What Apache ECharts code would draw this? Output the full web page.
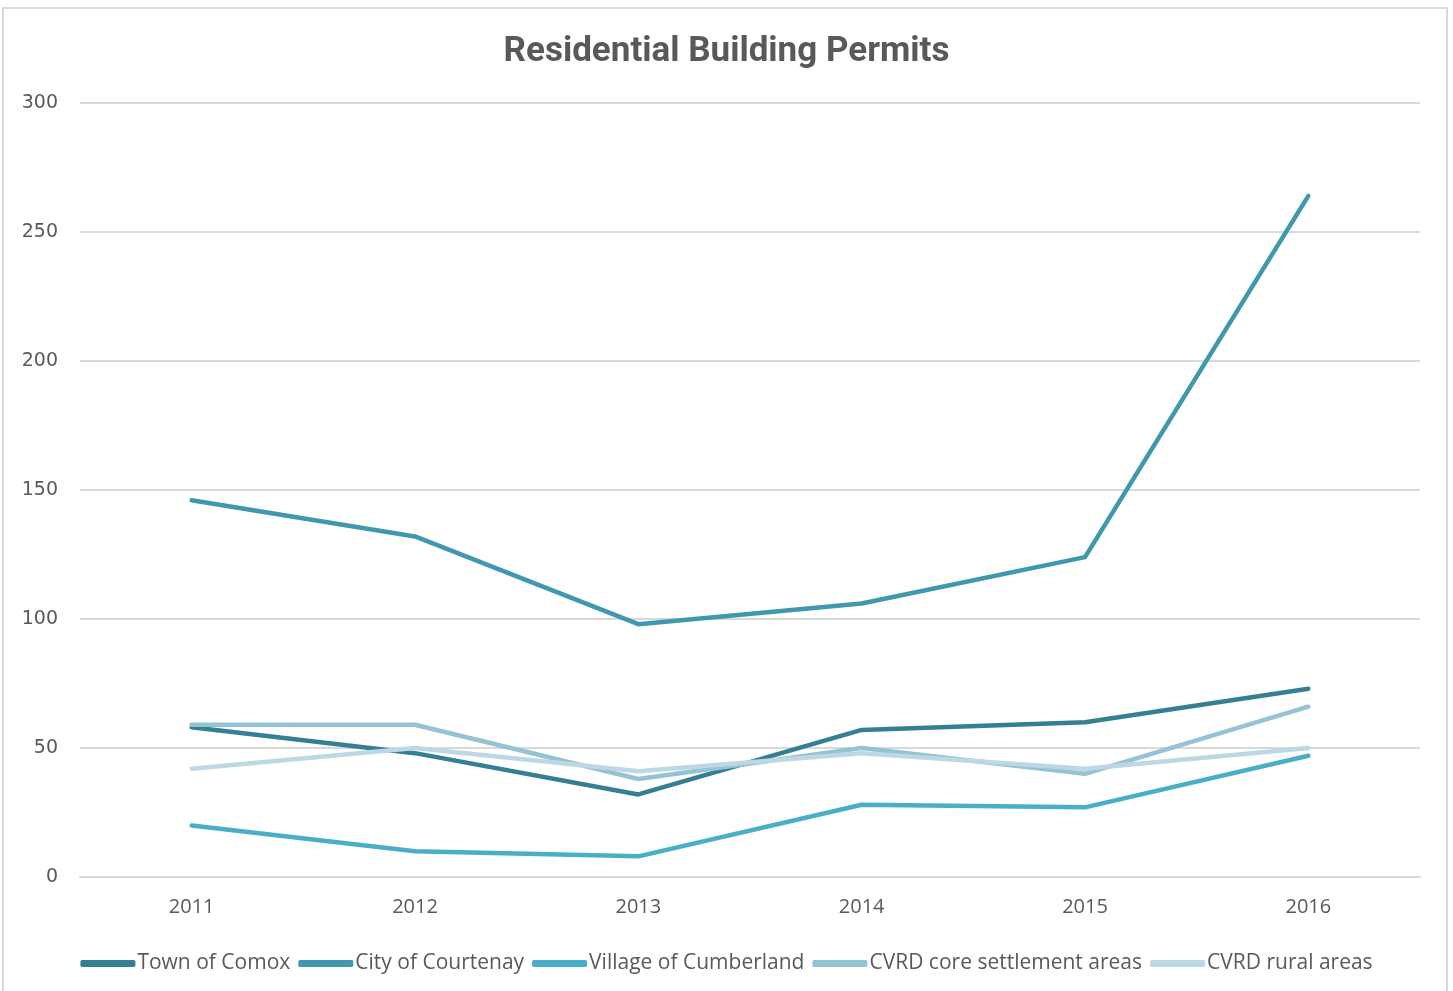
<!DOCTYPE html>
<html>
<head>
<meta charset="utf-8">
<script src="https://cdn.jsdelivr.net/npm/echarts@6/dist/echarts.min.js"></script>
<style>
html,body{margin:0;padding:0;background:#fff;overflow:hidden;}
#frame{position:absolute;left:2px;top:7px;width:1446px;height:1000px;border:2px solid #d9d9d9;box-sizing:border-box;}
#chart{position:absolute;left:0;top:0;width:1453px;height:991px;}
</style>
</head>
<body>
<div id="frame"></div>
<div id="chart"></div>
<script>
const categories = ['2011','2012','2013','2014','2015','2016'];
const yTicks = [0,50,100,150,200,250,300];
const seriesNames = ['Town of Comox','City of Courtenay','Village of Cumberland','CVRD core settlement areas','CVRD rural areas'];
const comox = [58,48,32,57,60,73];
const courtenay = [146,132,98,106,124,264];
const cumberland = [20,10,8,28,27,47];
const coreAreas = [59,59,38,50,40,66];
const ruralAreas = [42,50,41,48,42,50];
const colors = ['#357f94','#3f98ae','#4aaec6','#93c3d4','#bdd8e4'];

const dataSets = [comox,courtenay,cumberland,coreAreas,ruralAreas];
const chart = echarts.init(document.getElementById('chart'), null, {renderer:'canvas'});
chart.setOption({
  animation:false,
  backgroundColor:'transparent',
  title:{
    text:'Residential Building Permits',
    left:'center', top:30,
    textStyle:{fontFamily:'Roboto',fontWeight:'bold',fontSize:35,color:'#595959'}
  },
  legend:{
    bottom:12, left:'center',
    itemWidth:55, itemHeight:7, itemGap:8,
    icon:'roundRect',
    data:seriesNames,
    textStyle:{fontFamily:'Open Sans',fontSize:21,color:'#595959',padding:[0,0,0,-3]}
  },
  grid:{left:80,right:33,top:103,bottom:114,containLabel:false},
  xAxis:{
    type:'category', data:categories, boundaryGap:true,
    axisLine:{show:true,lineStyle:{color:'#d9d9d9',width:2}},
    axisTick:{show:false},
    axisLabel:{fontFamily:'Open Sans',fontSize:20,color:'#595959',margin:20}
  },
  yAxis:{
    type:'value', min:0, max:300, interval:50,
    axisLine:{show:false}, axisTick:{show:false},
    splitLine:{lineStyle:{color:'#d9d9d9',width:2}},
    axisLabel:{fontFamily:'DejaVu Sans',fontSize:19,color:'#595959',margin:22,
      formatter:v=>yTicks.includes(v)?String(v):''}
  },
  series:dataSets.map((d,i)=>({
    name:seriesNames[i], type:'line', data:d,
    symbol:'none', smooth:false,
    lineStyle:{color:colors[i],width:4.5,cap:'round',join:'round'},
    itemStyle:{color:colors[i]}
  }))
});
</script>
</body>
</html>
